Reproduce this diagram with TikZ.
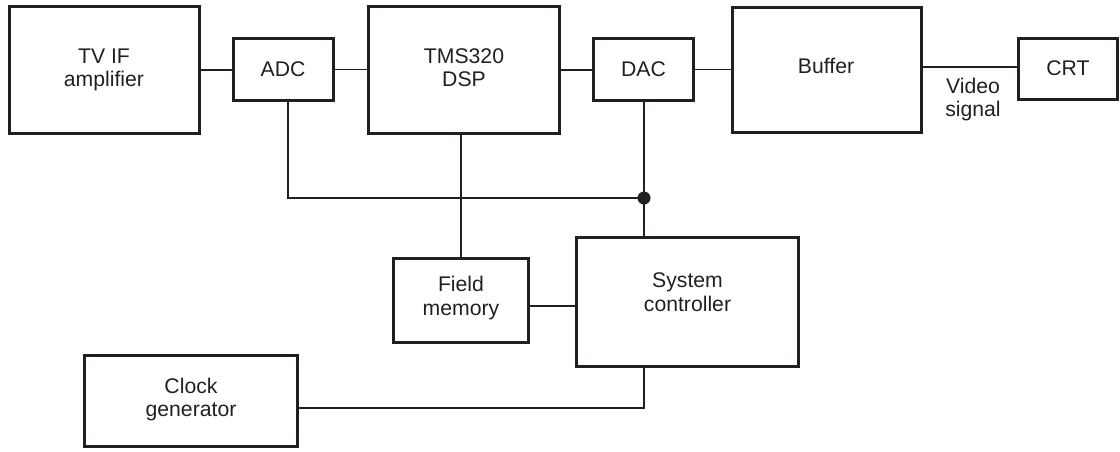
\documentclass[tikz,border=0pt]{standalone}
\usepackage{fontspec}
\setmainfont{Liberation Sans}
\definecolor{ink}{HTML}{231F20}
\begin{document}
\begin{tikzpicture}[x=1pt,y=-1pt,
  box/.style={draw=ink, line width=3pt, rectangle, inner sep=0pt, outer sep=0pt},
  txt/.style={align=center, inner sep=0pt, text=ink, font=\fontsize{21.2}{23.5}\selectfont},
  wire/.style={draw=ink, line width=1.1pt}]
\useasboundingbox (0,0) rectangle (1120,451);
% boxes
\node[box, minimum width=190pt, minimum height=127pt] (tvif) at (104.5,70) {};
\node[box, minimum width=100pt, minimum height=62pt] (adc) at (283.5,69.5) {};
\node[box, minimum width=191pt, minimum height=127pt] (dsp) at (464,70) {};
\node[box, minimum width=100pt, minimum height=62pt] (dac) at (643.5,69.5) {};
\node[box, minimum width=189pt, minimum height=125pt] (buffer) at (827,70) {};
\node[box, minimum width=99pt, minimum height=61pt] (crt) at (1068,69) {};
\node[box, minimum width=135pt, minimum height=84pt] (field) at (461,300.5) {};
\node[box, minimum width=222pt, minimum height=129pt] (sys) at (687.5,302) {};
\node[box, minimum width=213pt, minimum height=91pt] (clock) at (191,401) {};
% texts
\node[txt] (tviftxt) at (104,70) {TV IF\\amplifier};
\node[txt] (adctxt) at (283,69.5) {ADC};
\node[txt] (dsptxt) at (464,67.5) {TMS320\\DSP};
\node[txt] (dactxt) at (643.5,69.5) {DAC};
\node[txt] (buftxt) at (826,66) {Buffer};
\node[txt] (crttxt) at (1068,68) {CRT};
\node[txt] (vid) at (973,99.5) {Video\\signal};
\node[txt] (fieldtxt) at (461,298) {Field\\memory};
\node[txt] (systxt) at (687.5,292) {System\\controller};
\node[txt] (clocktxt) at (191,399.5) {Clock\\generator};
% junctions
\coordinate (j) at (644,198);
\coordinate (adcdrop) at (288,198);
% connectors
\draw[wire] (tvif.east) -- (tvif.east -| adc.west);
\draw[wire] (adc.east) -- (adc.east -| dsp.west);
\draw[wire] (dsp.east) -- (dsp.east -| dac.west);
\draw[wire] (dac.east) -- (dac.east -| buffer.west);
\draw[wire] ([yshift=3pt]buffer.east) -- ([yshift=3pt]buffer.east -| crt.west);
\draw[wire] (adc.south -| adcdrop) |- (j);
\draw[wire] (dac.south -| j) -- (sys.north -| j);
\draw[wire] (field.north) -- (field.north |- dsp.south);
\draw[wire] ([yshift=-5.5pt]field.east) -- ([yshift=-5.5pt]field.east -| sys.west);
\draw[wire] (sys.south -| j) |- ([yshift=-7pt]clock.east);
\fill[ink] (j) circle[radius=6.5pt];
\end{tikzpicture}
\end{document}
